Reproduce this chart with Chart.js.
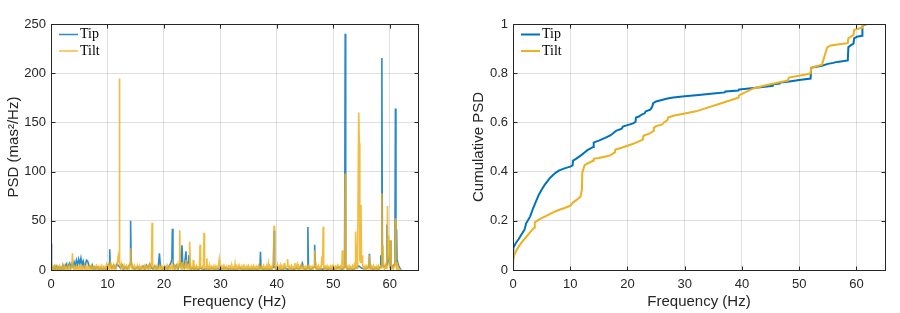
<!DOCTYPE html>
<html>
<head>
<meta charset="utf-8">
<script src="https://cdn.jsdelivr.net/npm/chart.js@4/dist/chart.umd.min.js"></script>
<style>
  body { margin: 0; background: #fff; }
  .panel { position: absolute; top: 0; width: 450px; height: 313px; }
  #left { left: 0; }
  #right { left: 450px; }
</style>
</head>
<body>
<div class="panel" id="left"><canvas id="psdChart" width="450" height="313"></canvas></div>
<div class="panel" id="right"><canvas id="cumChart" width="450" height="313"></canvas></div>
<script>
// series labels
const seriesNames = ['Tip', 'Tilt'];

// tick labels
const freqTicks = [0, 10, 20, 30, 40, 50, 60];
const psdTicks = [0, 50, 100, 150, 200, 250];
const cumTicks = [0, 0.2, 0.4, 0.6, 0.8, 1];

// PSD, [frequency Hz, mas^2/Hz]
const tipPsd = [
  [0,27],[0.1,4],[0.3,0.5],[0.5,3],[0.7,0.5],[0.9,4],[1.1,1],[1.3,3],[1.5,0.5],[1.7,2.5],[1.9,0.5],
  [2.1,5],[2.3,1],[2.5,3],[2.7,6],[2.9,2],[3.1,5],[3.3,7],[3.5,2],[3.7,6],[3.9,3],[4.1,8],[4.3,4],
  [4.5,10],[4.7,5],[4.9,11],[5.1,6],[5.3,12],[5.5,5],[5.7,9],[5.9,3],[6.1,6],[6.3,10],[6.5,9],
  [6.7,4],[6.9,4],[7.1,2],[7.3,5],[7.5,1],[7.7,3],[7.9,1],[8.2,3],[8.5,0.5],[8.8,2],[9.1,0.5],
  [9.4,2],[9.7,0.5],[10.0,4],[10.3,6],[10.4,21],[10.5,5],[10.8,2],[11.1,5],[11.4,2],[11.7,6],
  [12.0,4],[12.3,2],[12.6,5],[12.9,1],[13.2,3],[13.5,1],[13.8,4],[14.0,6],[14.1,50],[14.2,6],
  [14.5,2],[14.8,1],[15.1,2],[15.4,3],[15.7,0.5],[16.0,2],[16.3,4],[16.6,1],[16.9,5],[17.2,2],
  [17.5,6],[17.8,2],[18.1,1],[18.4,4],[18.7,1],[19.0,3],[19.2,17],[19.4,3],[19.7,1],[20.0,2],
  [20.3,3],[20.6,1],[20.9,4],[21.2,7],[21.4,10],[21.5,42],[21.6,8],[21.9,2],[22.2,5],[22.5,1],
  [22.8,6],[23.0,4],[23.2,25],[23.35,4],[23.6,2],[23.9,19],[24.05,5],[24.3,8],[24.4,15],[24.55,3],
  [24.8,1],[25.1,2],[25.4,1],[25.7,2],[26,0.5],[26.5,2],[27,0.5],[27.5,1.5],[28,0.5],[28.5,2],
  [29,0.5],[29.5,1.5],[30,0.5],[30.5,1.5],[31,2],[31.5,0.5],[32,1.5],[32.5,0.5],[33,1],[33.5,2],[34,0.5],
  [34.5,1.5],[35,0.5],[35.5,1],[36,1.5],[36.5,0.5],[37.0,2],[37.1,18.6],[37.2,2],[37.6,0.5],[38,1.5],
  [38.5,0.5],[39,1],[39.4,3],[39.5,40],[39.6,3],[40,0.5],[40.5,1.5],[41,0.5],[41.5,2],[42,0.5],[42.5,1.5],
  [43,0.5],[43.5,2],[44,1],[44.5,7],[44.7,2],[45,0.5],[45.4,2],[45.5,43.6],[45.6,2],[46,0.5],[46.6,3],
  [46.7,25.7],[46.8,3],[47.2,0.5],[47.6,1.5],[48,0.5],[48.5,2],[49,0.5],[49.5,1.5],[50,0.5],[50.5,1.5],
  [51.1,3],[51.5,0.5],[52.0,3],[52.1,240],[52.2,3],[52.6,0.5],[53,1.5],[53.5,0.5],[54,2],[54.5,4],
  [55,2],[55.5,1],[56,2],[56.3,3],[56.4,16.5],[56.5,3],[57,0.5],[57.5,2],[58,1],[58.3,3],
  [58.4,15],[58.5,4],[58.6,215.5],[58.7,5],[59,3],[59.4,5],[59.5,46],[59.6,8],[59.8,12],[60.0,4],
  [60.1,30],[60.2,5],[60.5,3],[60.9,6],[61.0,164],[61.1,8],[61.2,41.6],[61.3,6],[61.4,8],[61.6,4],
  [61.8,2],[62,0]
];

const tiltPsd = [
  [0,5],[0.15,0.5],[0.3,3.5],[0.45,1],[0.6,4],[0.75,0.5],[0.9,3],[1.05,1],[1.2,3.5],[1.35,0.5],
  [1.5,4],[1.65,1],[1.8,3],[1.95,0.5],[2.1,3.5],[2.25,1],[2.4,4],[2.55,0.5],[2.7,3],[2.85,1],
  [3.0,3.5],[3.15,0.5],[3.3,4],[3.45,1],[3.6,3.5],[3.7,5],[3.8,17],[3.9,4],[4.05,1],[4.2,3.5],
  [4.35,0.5],[4.5,4],[4.65,1],[4.8,3],[4.95,0.5],[5.1,3.5],[5.25,1],[5.4,4],[5.55,0.5],[5.7,3],
  [5.85,1],[6.0,3.5],[6.15,0.5],[6.3,4],[6.45,1],[6.6,3],[6.75,0.5],[6.9,3.5],[7.05,1],[7.2,4],
  [7.35,0.5],[7.5,3],[7.65,1],[7.8,3.5],[7.95,0.5],[8.1,4],[8.25,1],[8.4,3],[8.55,0.5],[8.7,3.5],
  [8.85,1],[9.0,4],[9.15,0.5],[9.3,3],[9.45,1],[9.6,3.5],[9.75,0.5],[9.9,4],[10.05,1],[10.2,5],
  [10.35,1.5],[10.5,6],[10.65,1],[10.8,4],[10.95,1.5],[11.1,5],[11.25,1],[11.4,4],[11.55,1.5],
  [11.7,5],[11.9,14],[12.05,8],[12.1,194.6],[12.2,8],[12.35,2],[12.5,6],[12.65,1],[12.8,4],
  [12.95,1.5],[13.1,3.5],[13.25,1],[13.4,4],[13.55,0.5],[13.7,3.5],[13.85,1],[14.0,6],[14.1,22],
  [14.2,5],[14.35,1],[14.5,3.5],[14.65,0.5],[14.8,4],[14.95,1],[15.1,3],[15.25,0.5],[15.4,3.5],
  [15.55,1],[15.7,4],[15.85,0.5],[16.0,3],[16.15,1],[16.3,3.5],[16.45,0.5],[16.6,4],[16.75,1],
  [16.9,3.5],[17.05,1],[17.2,4],[17.35,1],[17.5,5],[17.65,1.5],[17.8,6],[17.9,48],[18.0,5],
  [18.15,1],[18.3,3.5],[18.45,0.5],[18.6,4],[18.75,1],[18.9,3],[19.05,0.5],[19.2,3.5],[19.35,1],
  [19.5,4],[19.65,0.5],[19.8,3],[19.95,1],[20.1,3.5],[20.25,0.5],[20.4,4],[20.55,1],[20.7,3],
  [20.85,0.5],[21.0,3.5],[21.15,1],[21.3,4],[21.45,1],[21.6,5],[21.75,1],[21.9,3.5],[22.05,1],
  [22.2,4],[22.35,1],[22.5,6],[22.65,1.5],[22.7,5],[22.8,40.5],[22.9,5],[23.05,1],[23.2,8],
  [23.35,1],[23.5,4],[23.65,1],[23.8,6],[23.9,1.5],[24.0,10],[24.15,1],[24.3,4],[24.45,1],
  [24.5,6],[24.6,28.7],[24.7,5],[24.85,1],[25.0,3],[25.1,1],[25.2,10],[25.3,1],[25.45,3.5],
  [25.6,0.5],[25.75,4],[25.9,1],[26.05,3],[26.2,1],[26.3,4],[26.4,25.7],[26.5,4],[26.65,1],
  [26.8,3],[26.9,1],[27.0,5],[27.1,37.8],[27.2,5],[27.35,1],[27.5,3],[27.6,12],[27.7,1],[27.85,3.5],
  [28.0,0.5],[28.15,4],[28.3,1],[28.45,3],[28.6,0.5],[28.75,3.5],[28.9,1],[29.05,4],[29.2,0.5],
  [29.35,3],[29.5,1],[29.65,4],[29.8,10.5],[29.9,3],[30.05,0.5],[30.2,3.5],[30.35,1],[30.5,4],
  [30.65,0.5],[30.8,3],[30.95,1],[31.1,3.5],[31.25,0.5],[31.4,3],[31.5,5],[31.6,1],[31.75,3.5],
  [31.9,0.5],[32.05,4],[32.2,1],[32.35,3],[32.5,1],[32.6,6],[32.7,1],[32.85,3.5],[33.0,0.5],
  [33.15,4],[33.3,1],[33.45,3],[33.6,0.5],[33.75,3.5],[33.9,1],[34.05,4],[34.2,0.5],[34.35,3],
  [34.5,1],[34.65,3.5],[34.8,0.5],[34.95,4],[35.1,1],[35.25,3],[35.4,0.5],[35.55,3.5],[35.7,1],
  [35.85,4],[36.0,0.5],[36.15,3],[36.3,1],[36.45,3.5],[36.6,0.5],[36.75,4],[36.9,1],[37.05,3],
  [37.2,0.5],[37.35,3.5],[37.5,1],[37.65,4],[37.8,0.5],[37.95,3],[38.1,1],[38.25,3.5],[38.4,1],
  [38.5,6],[38.6,1],[38.75,4],[38.9,0.5],[39.05,3],[39.2,1],[39.4,8],[39.5,45],[39.6,6],[39.75,1],
  [39.9,3.5],[40.05,0.5],[40.2,4],[40.35,1],[40.5,3],[40.6,5],[40.7,1],[40.85,3.5],[41.0,0.5],
  [41.15,4],[41.3,1],[41.4,7],[41.5,1],[41.65,3],[41.8,4],[41.9,11],[42.0,4],[42.15,1],[42.3,3.5],
  [42.45,0.5],[42.6,4],[42.75,1],[42.9,3],[43.05,1],[43.2,7],[43.3,1],[43.45,3.5],[43.6,6],
  [43.7,1],[43.85,4],[44.0,0.5],[44.15,3],[44.3,1],[44.45,3.5],[44.6,0.5],[44.75,4],[44.9,1],
  [45.05,3],[45.2,0.5],[45.35,3.5],[45.5,1],[45.65,4],[45.8,0.5],[45.95,3],[46.1,1],[46.25,3.5],
  [46.4,0.5],[46.6,3],[46.7,20],[46.8,3],[46.95,1],[47.1,3.5],[47.25,0.5],[47.4,4],[47.55,1],
  [47.7,3],[47.85,1],[47.9,5],[48.0,14],[48.1,5],[48.2,44],[48.3,4],[48.45,1],[48.6,3.5],
  [48.75,0.5],[48.9,4],[49.05,1],[49.2,3],[49.35,0.5],[49.5,3.5],[49.65,1],[49.8,4],[49.95,0.5],
  [50.1,3],[50.25,1],[50.4,3.5],[50.55,0.5],[50.7,4],[50.85,1],[51.0,3],[51.15,1],[51.3,3.5],
  [51.45,1],[51.5,4],[51.6,20],[51.7,3],[51.85,1],[52.0,4],[52.1,98],[52.2,4],[52.35,1],[52.5,3.5],
  [52.65,0.5],[52.8,4],[52.95,1],[53.1,3],[53.25,1],[53.4,4],[53.55,1],[53.7,5],[53.85,1.5],
  [53.9,6],[54.0,39],[54.1,5],[54.2,1.5],[54.3,6],[54.5,160],[54.6,129],[54.7,10],[54.8,8],
  [54.9,66],[55.0,8],[55.1,15],[55.2,4],[55.35,1],[55.5,3.5],[55.65,1],[55.8,4],[55.95,0.5],
  [56.1,3.5],[56.25,1],[56.3,4],[56.4,15],[56.5,3],[56.65,0.5],[56.8,3.5],[56.95,1],[57.1,4],
  [57.25,0.5],[57.4,3],[57.55,1],[57.7,3.5],[57.85,0.5],[58.0,4],[58.15,1],[58.3,3.5],[58.4,5],
  [58.5,2],[58.6,77.7],[58.7,8],[58.8,25],[58.9,4],[59.05,1],[59.2,5],[59.35,1.5],[59.5,8],
  [59.6,65],[59.7,12],[59.8,35],[59.9,8],[60.0,2],[60.1,30],[60.2,6],[60.35,1.5],[60.5,4],
  [60.65,1],[60.8,4],[60.9,5],[61.0,52.7],[61.1,6],[61.2,2],[61.3,8],[61.4,1.5],[61.5,3],
  [61.65,0.5],[61.8,1],[62,0]
];

// cumulative PSD, [frequency Hz, fraction]
const tipCum = [
  [0,0.05],[0.05,0.09],[0.5,0.11],[1,0.126],[1.5,0.145],[2,0.163],[2.3,0.19],[2.5,0.197],[3,0.218],
  [3.5,0.25],[4,0.278],[4.5,0.305],[5,0.326],[5.5,0.345],[6,0.36],[6.5,0.375],[7,0.386],[7.5,0.396],
  [8,0.404],[9,0.413],[10,0.42],[10.4,0.425],[10.5,0.445],[11,0.452],[11.5,0.46],[12,0.468],
  [12.5,0.478],[13,0.487],[13.5,0.493],[14,0.5],[14.1,0.518],[14.5,0.522],[15,0.526],[16,0.536],
  [17,0.547],[17.5,0.556],[18,0.566],[19,0.574],[19.2,0.583],[20,0.589],[21,0.596],[21.4,0.602],
  [21.5,0.62],[22,0.624],[22.5,0.632],[23,0.637],[23.2,0.645],[24,0.652],[24.3,0.662],[24.5,0.678],
  [25,0.685],[26,0.691],[27,0.697],[28,0.701],[30,0.706],[32,0.71],[35,0.717],[37,0.722],
  [37.1,0.726],[39.4,0.73],[39.5,0.734],[40,0.735],[42,0.74],[44,0.745],[45.4,0.749],[45.5,0.755],
  [46.6,0.758],[46.7,0.762],[48,0.765],[50,0.772],[52,0.778],[52.1,0.822],[53,0.826],[54,0.83],
  [55,0.838],[56,0.842],[56.4,0.845],[57,0.847],[58.5,0.852],[58.6,0.906],[59,0.913],[59.5,0.92],
  [59.6,0.942],[60.1,0.948],[61,0.952],[61.05,0.99],[61.2,0.995],[61.8,1]
];

const tiltCum = [
  [0,0.03],[0.05,0.05],[0.5,0.075],[1,0.095],[1.5,0.112],[2,0.126],[2.5,0.14],[3,0.154],
  [3.7,0.172],[3.8,0.193],[4.5,0.205],[5,0.211],[6,0.222],[7,0.234],[8,0.244],[9,0.252],
  [10,0.261],[10.5,0.275],[11,0.283],[11.8,0.298],[12.05,0.33],[12.1,0.395],[12.5,0.425],
  [13,0.433],[14,0.444],[14.1,0.452],[15,0.455],[16,0.46],[17,0.466],[17.8,0.478],[17.9,0.49],
  [19,0.497],[20,0.505],[21,0.513],[22,0.523],[22.7,0.53],[22.8,0.546],[24,0.556],[24.5,0.565],
  [24.6,0.578],[25,0.585],[26,0.591],[26.4,0.6],[27,0.61],[27.1,0.62],[28,0.627],[30,0.636],
  [32,0.645],[34,0.66],[36,0.675],[38,0.69],[39.4,0.7],[39.5,0.71],[40,0.716],[42,0.738],
  [44,0.75],[46,0.76],[48,0.77],[48.2,0.782],[50,0.79],[51.6,0.797],[52,0.8],[52.1,0.822],
  [53,0.828],[54,0.835],[54.5,0.875],[54.9,0.905],[55.5,0.913],[57,0.918],[58.5,0.922],
  [58.6,0.942],[59.5,0.955],[59.6,0.975],[60.1,0.98],[61,0.985],[61.05,0.995],[61.8,1]
];

const TIP = '#0072BD';
const TILT = '#EDB120';
const TEXT = '#262626';
const GRID = 'rgba(38,38,38,0.15)';

// box, inward ticks and the in-axes legend (MATLAB style)
const matlabFrame = {
  id: 'matlabFrame',
  afterDraw(chart, args, opts) {
    const { ctx, chartArea: a, scales: { x, y } } = chart;
    ctx.save();
    ctx.strokeStyle = TEXT;
    ctx.lineWidth = 1;
    const l = Math.round(a.left) + 0.5, r = Math.round(a.right) + 0.5;
    const t = Math.round(a.top) + 0.5, b = Math.round(a.bottom) + 0.5;
    ctx.strokeRect(l, t, r - l, b - t);
    ctx.beginPath();
    x.ticks.forEach(tk => {
      const px = Math.round(x.getPixelForValue(tk.value)) + 0.5;
      ctx.moveTo(px, b); ctx.lineTo(px, b - 4);
      ctx.moveTo(px, t); ctx.lineTo(px, t + 4);
    });
    y.ticks.forEach(tk => {
      const py = Math.round(y.getPixelForValue(tk.value)) + 0.5;
      ctx.moveTo(l, py); ctx.lineTo(l + 4, py);
      ctx.moveTo(r, py); ctx.lineTo(r - 4, py);
    });
    ctx.stroke();

    ctx.font = '14px "Liberation Serif", serif';
    ctx.textBaseline = 'middle';
    ctx.fillStyle = '#000';
    chart.data.datasets.forEach((ds, i) => {
      const ly = a.top + 10.5 + i * 16.5;
      ctx.strokeStyle = ds.borderColor;
      ctx.lineWidth = opts.lineWidth;
      ctx.beginPath();
      ctx.moveTo(a.left + 8, ly);
      ctx.lineTo(a.left + 27, ly);
      ctx.stroke();
      ctx.fillText(ds.label, a.left + 29, ly);
    });
    ctx.restore();
  }
};

function axes(yTicks, yMax, yTitle, yWidth, yTitlePad) {
  const tickFont = { family: '"Liberation Sans", Arial, sans-serif', size: 13 };
  const titleFont = { family: '"Liberation Sans", Arial, sans-serif', size: 15 };
  return {
    x: {
      type: 'linear', min: 0, max: 65,
      afterBuildTicks: s => { s.ticks = freqTicks.map(v => ({ value: v })); },
      afterFit: s => { s.height = 43; },
      ticks: { color: TEXT, font: tickFont, padding: 7, maxRotation: 0, callback: v => String(v) },
      grid: { color: GRID, drawTicks: false },
      border: { display: false },
      title: { display: true, text: 'Frequency (Hz)', color: TEXT, font: titleFont, padding: { top: 0, bottom: 2 } }
    },
    y: {
      type: 'linear', min: 0, max: yMax,
      afterBuildTicks: s => { s.ticks = yTicks.map(v => ({ value: v })); },
      afterFit: s => { s.width = yWidth; },
      ticks: { color: TEXT, font: tickFont, padding: 5, callback: v => String(v) },
      grid: { color: GRID, drawTicks: false },
      border: { display: false },
      title: { display: true, text: yTitle, color: TEXT, font: titleFont, padding: { top: yTitlePad, bottom: 0 } }
    }
  };
}

const common = {
  responsive: false,
  animation: false,
  devicePixelRatio: 1,
  elements: { point: { radius: 0 }, line: { borderJoinStyle: 'miter' } },
  plugins: { legend: { display: false }, tooltip: { enabled: false } }
};

new Chart(document.getElementById('psdChart'), {
  type: 'line',
  data: {
    datasets: [
      { label: seriesNames[0], data: tipPsd, borderColor: 'rgba(0,114,189,0.82)', borderWidth: 1.6, order: 1 },
      { label: seriesNames[1], data: tiltPsd, borderColor: 'rgba(237,177,32,0.85)', borderWidth: 1.6, order: 0 }
    ]
  },
  options: Object.assign({}, common, {
    layout: { padding: { left: 0, right: 32, top: 24, bottom: 0 } },
    scales: axes(psdTicks, 250, 'PSD (mas²/Hz)', 51, 5),
    plugins: Object.assign({}, common.plugins, { matlabFrame: { lineWidth: 1.5 } })
  }),
  plugins: [matlabFrame]
});

new Chart(document.getElementById('cumChart'), {
  type: 'line',
  data: {
    datasets: [
      { label: seriesNames[0], data: tipCum, borderColor: TIP, borderWidth: 2, order: 1 },
      { label: seriesNames[1], data: tiltCum, borderColor: TILT, borderWidth: 2, order: 0 }
    ]
  },
  options: Object.assign({}, common, {
    layout: { padding: { left: 0, right: 15, top: 24, bottom: 0 } },
    scales: axes(cumTicks, 1, 'Cumulative PSD', 63, 20),
    plugins: Object.assign({}, common.plugins, { matlabFrame: { lineWidth: 2 } })
  }),
  plugins: [matlabFrame]
});
</script>
</body>
</html>
